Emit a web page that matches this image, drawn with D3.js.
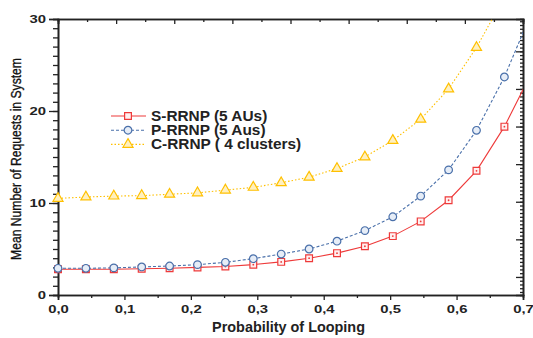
<!DOCTYPE html>
<html>
<head>
<meta charset="utf-8">
<script src="https://cdn.jsdelivr.net/npm/d3@7"></script>
<style>
  body { margin: 0; background: #fff; }
  text { font-family: "Liberation Sans", Arial, sans-serif; }
</style>
</head>
<body>
<div id="chart"></div>
<script>
// --------------------------------------
//  Data
// --------------------------------------

const loopProb = [0, 0.042, 0.084, 0.126, 0.168, 0.21, 0.252, 0.294, 0.336,
                  0.378, 0.42, 0.462, 0.504, 0.546, 0.588, 0.63, 0.672, 0.714];

const sRRNP = [2.8, 2.8, 2.8, 2.85, 2.9, 3.0, 3.1, 3.3, 3.6,
               4.0, 4.55, 5.3, 6.4, 8.0, 10.3, 13.5, 18.3, 24.3];
const pRRNP = [2.9, 2.9, 2.95, 3.05, 3.15, 3.3, 3.55, 3.95, 4.45,
               5.0, 5.85, 7.0, 8.5, 10.75, 13.6, 17.9, 23.7, 30.9];
const cRRNP = [10.5, 10.65, 10.75, 10.8, 10.95, 11.1, 11.4, 11.7, 12.2,
               12.8, 13.75, 15.0, 16.8, 19.1, 22.4, 26.9, 32.4, 40.5];

const seriesNames = ["S-RRNP (5 AUs)", "P-RRNP (5 Aus)", "C-RRNP ( 4 clusters)"];

const xTicks = [0, 0.1, 0.2, 0.3, 0.4, 0.5, 0.6, 0.7];
const yTicks = [0, 10, 20, 30];

const xLabel = "Probability of Looping";
const yLabel = "Mean Number of Requests in System";

// --------------------------------------
//  Canvas
// --------------------------------------

const width = 533, height = 338;
const margin = {top: 19, right: 10, bottom: 43, left: 58};
const innerwidth = width - margin.left - margin.right;
const innerheight = height - margin.top - margin.bottom;

const svg = d3.select("#chart")
  .append("svg")
    .attr("width", width)
    .attr("height", height)
    .attr("viewBox", [0, 0, width, height]);

const inner = svg
  .append("g")
    .attr("transform", `translate(${margin.left}, ${margin.top})`);

svg.append("defs")
  .append("clipPath")
    .attr("id", "plot-clip")
  .append("rect")
    .attr("width", innerwidth)
    .attr("height", innerheight);

// --------------------------------------
// Scales
// --------------------------------------

const x = d3.scaleLinear()
    .domain([0, 0.7])
    .range([0, innerwidth]);

const y = d3.scaleLinear()
    .domain([0, 30])
    .range([innerheight, 0]);

// the frame's top and right edges carry their own tick spacing
const xTop = d3.scaleLinear()
    .domain([0, 16])
    .range([0, innerwidth]);

const yRight = d3.scaleLinear()
    .domain([-1.48, 5.86])
    .range([innerheight, 0]);

const series = [
  {name: seriesNames[0], values: sRRNP, color: "#ee3a3a", dash: null,    symbol: d3.symbolSquare,   size: 46, fill: "#fff0f0"},
  {name: seriesNames[1], values: pRRNP, color: "#4a70aa", dash: "3,2",   symbol: d3.symbolCircle,   size: 46, fill: "#e6edf7"},
  {name: seriesNames[2], values: cRRNP, color: "#ffc000", dash: "1.5,2", symbol: d3.symbolTriangle, size: 44, fill: "#fff0c0"}
];

// --------------------------------------
// Axes
// --------------------------------------

const stretch = (g, sx) => g.selectAll("text").attr("transform", `scale(${sx},1)`);

const axisStyle = g => {
  g.select(".domain").attr("stroke", "#222").attr("stroke-width", 1.6);
  g.selectAll(".tick line").attr("stroke", "#222").attr("stroke-width", 1.3);
  g.selectAll("text")
    .attr("fill", "#222")
    .style("font-size", "11px")
    .style("font-weight", "bold");
};

// bottom: minor then major
inner.append("g")
    .attr("transform", `translate(0, ${innerheight})`)
    .call(d3.axisBottom(x).tickValues(d3.range(0.05, 0.7, 0.1)).tickSize(3).tickFormat(""))
    .call(axisStyle);

inner.append("g")
    .attr("transform", `translate(0, ${innerheight})`)
    .call(d3.axisBottom(x).tickValues(xTicks).tickSize(5).tickPadding(5)
            .tickFormat(d => d3.format(".1f")(d).replace(".", ",")))
    .call(axisStyle)
    .call(g => stretch(g, 1.35));

// left: minor then major
inner.append("g")
    .call(d3.axisLeft(y).tickValues(d3.range(0, 31, 1)).tickSize(5).tickFormat(""))
    .call(axisStyle);

inner.append("g")
    .call(d3.axisLeft(y).tickValues(yTicks).tickSize(9).tickFormat(d3.format("d")))
    .call(axisStyle)
    .call(g => stretch(g, 1.35))
    .call(g => g.selectAll("text").attr("x", -12 / 1.35));

// top (ticks inward)
inner.append("g")
    .call(d3.axisBottom(xTop).tickValues(d3.range(1, 16, 2)).tickSize(3).tickFormat(""))
    .call(axisStyle);

inner.append("g")
    .call(d3.axisBottom(xTop).tickValues(d3.range(0, 17, 2)).tickSize(5).tickFormat(""))
    .call(axisStyle);

// right (ticks inward)
inner.append("g")
    .attr("transform", `translate(${innerwidth}, 0)`)
    .call(d3.axisLeft(yRight).tickValues(d3.range(-14, 59).map(d => d / 10)).tickSize(3).tickFormat(""))
    .call(axisStyle);

inner.append("g")
    .attr("transform", `translate(${innerwidth}, 0)`)
    .call(d3.axisLeft(yRight).tickValues(d3.range(-1, 6)).tickSize(7).tickFormat(""))
    .call(axisStyle);

// --------------------------------------
// Lines and markers
// --------------------------------------

const line = d3.line()
    .x((d, i) => x(loopProb[i]))
    .y(d => y(d));

const plot = inner.append("g");

plot.selectAll("path.series")
    .data(series)
    .join("path")
    .attr("class", "series")
    .attr("clip-path", "url(#plot-clip)")
    .attr("fill", "none")
    .attr("stroke", d => d.color)
    .attr("stroke-width", 1.1)
    .attr("stroke-dasharray", d => d.dash)
    .attr("d", d => line(d.values));

series.forEach(s => {
  const pts = s.values
      .map((v, i) => ({x: loopProb[i], y: v}))
      .filter(p => p.x <= 0.7 && p.y <= 30);

  plot.append("g")
    .selectAll("path")
    .data(pts)
    .join("path")
    .attr("transform", d => `translate(${x(d.x)}, ${y(d.y)})`)
    .attr("d", d3.symbol(s.symbol, s.size))
    .attr("fill", s.fill)
    .attr("stroke", s.color)
    .attr("stroke-width", 1.2);

  if (s.symbol === d3.symbolSquare) {
    plot.append("g")
      .selectAll("circle")
      .data(pts)
      .join("circle")
      .attr("cx", d => x(d.x))
      .attr("cy", d => y(d.y))
      .attr("r", 0.9)
      .attr("fill", s.color);
  }
});

// --------------------------------------
// Legend
// --------------------------------------

const legend = svg.append("g")
    .attr("transform", "translate(111, 116)");

const rows = legend.selectAll("g")
    .data(series)
    .join("g")
    .attr("transform", (d, i) => `translate(0, ${i * 14.2})`);

rows.append("line")
    .attr("x1", 0)
    .attr("x2", 35)
    .attr("stroke", d => d.color)
    .attr("stroke-width", 1.1)
    .attr("stroke-dasharray", d => d.dash);

rows.append("path")
    .attr("transform", "translate(17, 0)")
    .attr("d", d => d3.symbol(d.symbol, d.size)())
    .attr("fill", d => d.fill)
    .attr("stroke", d => d.color)
    .attr("stroke-width", 1.2);

rows.append("text")
    .attr("transform", "translate(40, 5) scale(1.1,1)")
    .attr("fill", "#222")
    .style("font-size", "14px")
    .style("font-weight", "bold")
    .text(d => d.name);

// --------------------------------------
// Axis titles
// --------------------------------------

svg.append("text")
    .attr("transform", `translate(${margin.left + x(0.35) - 2}, 332) scale(1.03,1)`)
    .attr("text-anchor", "middle")
    .attr("fill", "#222")
    .style("font-size", "14px")
    .style("font-weight", "bold")
    .text(xLabel);

svg.append("text")
    .attr("transform", "translate(20.5, 159) rotate(-90)")
    .attr("text-anchor", "middle")
    .attr("fill", "#111")
    .attr("stroke", "#111")
    .attr("stroke-width", 0.35)
    .attr("textLength", 202)
    .attr("lengthAdjust", "spacingAndGlyphs")
    .style("font-family", "'Liberation Sans Narrow', 'Liberation Sans', Arial, sans-serif")
    .style("font-size", "15.5px")
    .text(yLabel);
</script>
</body>
</html>
